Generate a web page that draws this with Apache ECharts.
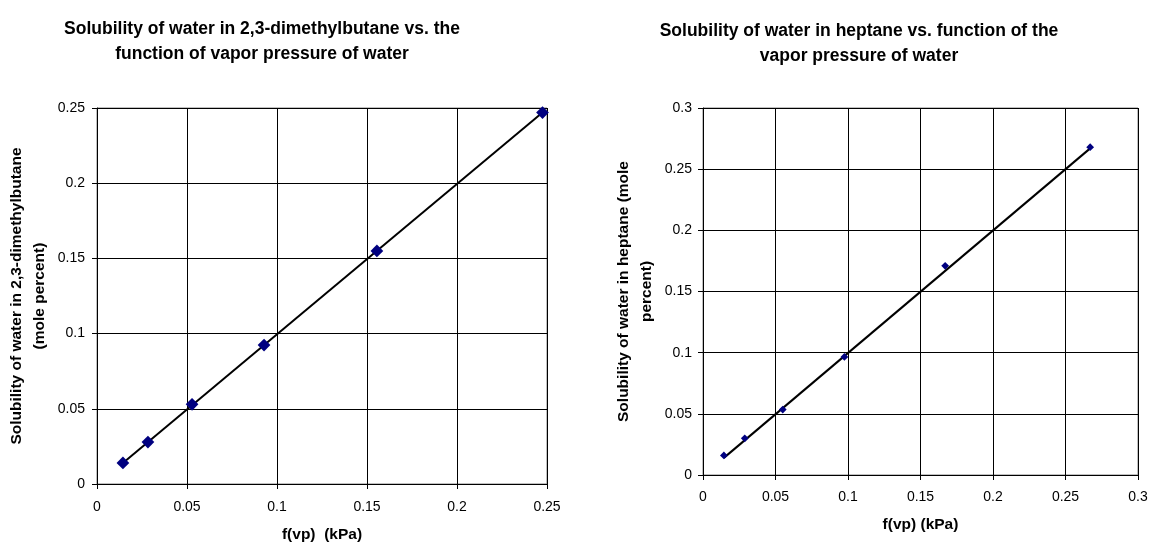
<!DOCTYPE html>
<html>
<head>
<meta charset="utf-8">
<script src="https://cdn.jsdelivr.net/npm/echarts@6/dist/echarts.min.js"></script>
<style>
html,body{margin:0;padding:0;background:#fff;}
#main{width:1150px;height:544px;}
</style>
</head>
<body>
<div id="main"></div>
<script>
// Left chart: 2,3-dimethylbutane
var leftX = [0.0144, 0.0283, 0.0528, 0.0928, 0.1555, 0.2475];
var leftY = [0.0140, 0.0279, 0.0530, 0.0924, 0.1550, 0.2470];
var leftTrendX = [0.0144, 0.2475];
var leftTrendY = [0.0140, 0.2470];
var leftTicks = ['0', '0.05', '0.1', '0.15', '0.2', '0.25'];

// Right chart: heptane
var rightX = [0.0144, 0.0288, 0.0550, 0.0975, 0.1670, 0.2670];
var rightY = [0.0160, 0.0300, 0.0535, 0.0965, 0.1710, 0.2680];
var rightTrendX = [0.0144, 0.2670];
var rightTrendY = [0.0140, 0.2670];
var rightTicks = ['0', '0.05', '0.1', '0.15', '0.2', '0.25', '0.3'];

function pairs(xs, ys){ return xs.map(function(x,i){ return [x, ys[i]]; }); }

var FONT = '"Liberation Sans", Arial, sans-serif';
var nameStyle = {color:'#000', fontSize:15.5, fontWeight:'bold', fontFamily:FONT, lineHeight:23};

function xAxis(gi, max, gap, name, margin){
  return {
    type:'value', gridIndex:gi, min:0, max:max, interval:0.05,
    name:name, nameLocation:'middle', nameGap:gap, nameTextStyle:nameStyle,
    axisLine:{show:true, lineStyle:{color:'#000', width:1}},
    axisTick:{show:true, inside:false, length:5, lineStyle:{color:'#000'}},
    axisLabel:{show:true, margin:margin, fontSize:14, color:'#000', fontFamily:FONT},
    splitLine:{show:true, lineStyle:{color:'#000', width:1}}
  };
}
function yAxis(gi, max, gap, name, margin){
  return {
    type:'value', gridIndex:gi, min:0, max:max, interval:0.05,
    name:name, nameLocation:'middle', nameGap:gap, nameRotate:90, nameTextStyle:nameStyle,
    axisLine:{show:true, lineStyle:{color:'#000', width:1}},
    axisTick:{show:true, inside:false, length:5, lineStyle:{color:'#000'}},
    axisLabel:{show:true, margin:margin, fontSize:14, color:'#000', fontFamily:FONT},
    splitLine:{show:true, lineStyle:{color:'#000', width:1}}
  };
}

var titleStyle = {fontSize:17.5, fontWeight:'bold', color:'#000', fontFamily:FONT, lineHeight:25};

var chart = echarts.init(document.getElementById('main'));
chart.setOption({
  animation:false,
  backgroundColor:'#fff',
  title:[
    {text:'Solubility of water in 2,3-dimethylbutane vs. the\nfunction of vapor pressure of water',
     left:257, top:12, textAlign:'center', textStyle:titleStyle},
    {text:'Solubility of water in heptane vs. function of the\nvapor pressure of water',
     left:854, top:14, textAlign:'center', textStyle:titleStyle}
  ],
  grid:[
    {left:97, top:108, width:450, height:376, show:true, borderColor:'#808080', borderWidth:1,
     backgroundColor:'transparent', outerBoundsMode:'none', containLabel:false},
    {left:703, top:108, width:435, height:367, show:true, borderColor:'#808080', borderWidth:1,
     backgroundColor:'transparent', outerBoundsMode:'none', containLabel:false}
  ],
  xAxis:[
    xAxis(0, 0.25, 39, 'f(vp)  (kPa)', 16),
    xAxis(1, 0.3, 38, 'f(vp) (kPa)', 15)
  ],
  yAxis:[
    yAxis(0, 0.25, 46, 'Solubility of water in 2,3-dimethylbutane\n(mole percent)', 12),
    yAxis(1, 0.3, 45, 'Solubility of water in heptane (mole\npercent)', 11)
  ],
  series:[
    {type:'line', xAxisIndex:0, yAxisIndex:0, data:pairs(leftTrendX, leftTrendY),
     showSymbol:false, symbol:'none', lineStyle:{color:'#000', width:2}, silent:true, z:3},
    {type:'scatter', xAxisIndex:0, yAxisIndex:0, data:pairs(leftX, leftY),
     symbol:'rect', symbolSize:9, symbolRotate:45, itemStyle:{color:'#000080', opacity:1}, z:4},
    {type:'line', xAxisIndex:1, yAxisIndex:1, data:pairs(rightTrendX, rightTrendY),
     showSymbol:false, symbol:'none', lineStyle:{color:'#000', width:2}, silent:true, z:3},
    {type:'scatter', xAxisIndex:1, yAxisIndex:1, data:pairs(rightX, rightY),
     symbol:'rect', symbolSize:5.5, symbolRotate:45, itemStyle:{color:'#000080', opacity:1}, z:4}
  ]
});
</script>
</body>
</html>
